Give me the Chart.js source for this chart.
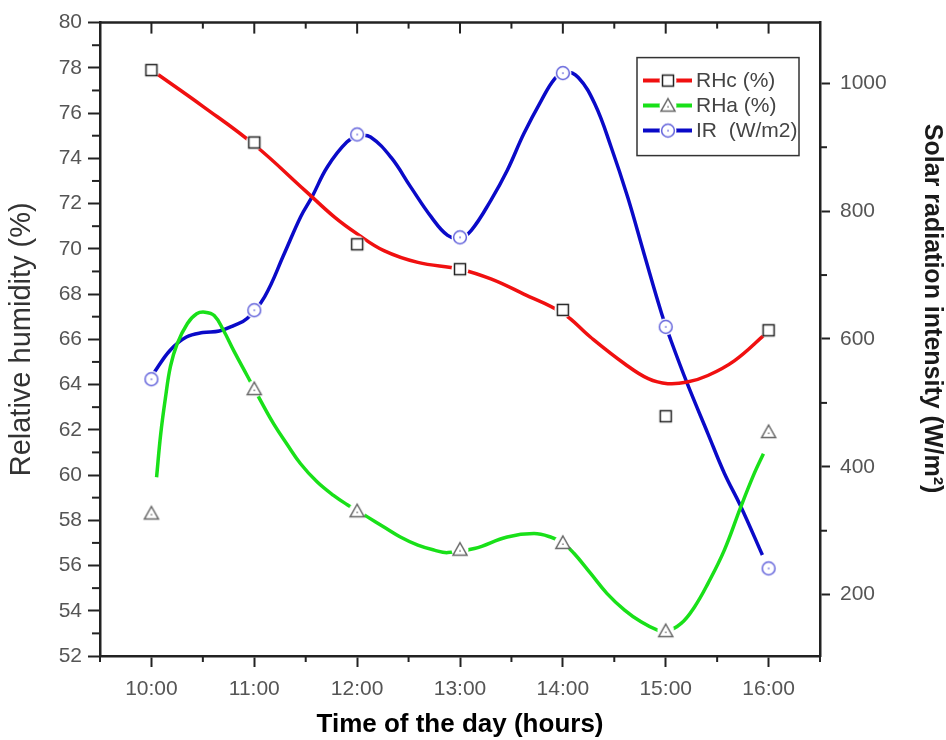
<!DOCTYPE html>
<html lang="en">
<head>
<meta charset="UTF-8">
<title>Relative humidity and solar radiation</title>
<script src="https://cdn.jsdelivr.net/npm/chart.js@4"></script>
<style>
  body { margin: 0; background: #fff; }
  #wrap { width: 946px; height: 740px; }
</style>
</head>
<body>
<div id="wrap"><canvas id="chart" width="946" height="740"></canvas></div>
<script>
// axis ticks
const hours = [10, 11, 12, 13, 14, 15, 16];
const hourLabels = ['10:00', '11:00', '12:00', '13:00', '14:00', '15:00', '16:00'];
const rhTicks = [52, 54, 56, 58, 60, 62, 64, 66, 68, 70, 72, 74, 76, 78, 80];
const irTicks = [200, 400, 600, 800, 1000];

// measured points (markers)
const seriesNames = ['RHc (%)', 'RHa (%)', 'IR  (W/m2)'];
const rhc = [77.9, 74.7, 70.2, 69.1, 67.3, 62.6, 66.4];
const rha = [58.3, 63.8, 58.4, 56.7, 57.0, 53.1, 61.9];
const ir = [537, 645, 920, 759, 1016, 619, 241];

// fitted curves (hour, value)
const rhcFitT = [10.05, 10.5, 11.0, 11.5, 11.78, 12.0, 12.26, 12.59, 13.0, 13.3, 13.62, 14.0, 14.27, 14.6, 14.83, 15.02, 15.21, 15.41, 15.67, 15.97];
const rhcFit  = [77.75, 76.3, 74.6, 72.55, 71.4, 70.66, 69.92, 69.4, 69.1, 68.67, 68.0, 67.15, 66.09, 64.92, 64.26, 64.04, 64.11, 64.4, 65.06, 66.24];

const rhaFitT = [10.05, 10.09, 10.136, 10.185, 10.25, 10.35, 10.44, 10.52, 10.61, 10.70, 10.80, 10.93, 11.06, 11.19, 11.32, 11.45, 11.61, 11.77, 11.9, 12.1, 12.26, 12.42, 12.59, 12.75, 12.88, 13.14, 13.46, 13.72, 13.88, 14.0, 14.11, 14.27, 14.43, 14.6, 14.76, 14.92, 15.0, 15.15, 15.28, 15.41, 15.57, 15.73, 15.86, 15.95];
const rhaFit  = [59.9, 61.8, 63.4, 64.8, 65.8, 66.7, 67.13, 67.2, 67.05, 66.4, 65.5, 64.4, 63.3, 62.25, 61.35, 60.5, 59.7, 59.1, 58.7, 58.15, 57.7, 57.26, 56.9, 56.68, 56.57, 56.75, 57.26, 57.41, 57.26, 57.0, 56.53, 55.65, 54.76, 54.03, 53.51, 53.14, 53.07, 53.44, 54.17, 55.2, 56.68, 58.59, 60.06, 60.94];

const irFitT = [10.02, 10.18, 10.34, 10.5, 10.66, 10.8, 10.93, 11.1, 11.29, 11.45, 11.56, 11.71, 11.9, 12.02, 12.13, 12.33, 12.52, 12.72, 12.88, 13.0, 13.11, 13.3, 13.46, 13.62, 13.79, 13.92, 14.02, 14.15, 14.31, 14.47, 14.63, 14.79, 14.96, 15.05, 15.21, 15.41, 15.57, 15.73, 15.94];
const irFit  = [546, 582, 603, 610, 612.5, 621, 632, 666, 733, 791, 822, 869, 908, 918, 916, 884, 838, 791, 762, 758, 770, 817, 864, 921, 973, 1007, 1018, 1009, 968, 900, 822, 733, 640, 598, 530, 452, 390, 338, 262];

const RED = '#f01010', GREEN = '#19e019', BLUE = '#0a0ac8';
const FONT = "'Liberation Sans', Arial, sans-serif";

function pts(t, v) {
    return t.map((x, i) => ({ x: x, y: v[i] }));
}

// marker images with a white halo so the curve breaks around the symbol
function makeMarker(kind) {
    const c = document.createElement('canvas');
    c.width = 20; c.height = 20;
    const g = c.getContext('2d');
    g.fillStyle = '#fff';
    g.beginPath(); g.arc(10, 10, 8.5, 0, Math.PI * 2); g.fill();
    g.lineWidth = 1.5;
    if (kind === 'square') {
        g.strokeStyle = '#222';
        g.strokeRect(4.5, 4.5, 11, 11);
    } else if (kind === 'triangle') {
        g.strokeStyle = '#666';
        g.beginPath(); g.moveTo(10, 3); g.lineTo(17, 15.5); g.lineTo(3, 15.5); g.closePath(); g.stroke();
        g.fillStyle = '#777'; g.fillRect(9.3, 10.5, 1.5, 1.5);
    } else {
        g.strokeStyle = '#6464dc';
        g.beginPath(); g.arc(10, 10, 6.4, 0, Math.PI * 2); g.stroke();
        g.fillStyle = '#6464dc'; g.fillRect(9.3, 9.3, 1.5, 1.5);
    }
    return c;
}
const markers = [makeMarker('square'), makeMarker('triangle'), makeMarker('circle')];
const colors = [RED, GREEN, BLUE];

function minorValues(major, min, max) {
    let out = [];
    const step = major[1] - major[0];
    const first = major[0] - step / 2;
    for (let v = first; v <= max + 1e-9; v += step) {
        if (v >= min - 1e-9) out.push(v);
    }
    return out;
}

// top frame line, inward top ticks, minor ticks on every axis
const frame = {
    id: 'frame',
    afterDraw(chart) {
        const { ctx, chartArea: a, scales } = chart;
        const line = (x1, y1, x2, y2) => { ctx.beginPath(); ctx.moveTo(x1, y1); ctx.lineTo(x2, y2); ctx.stroke(); };
        ctx.save();
        ctx.strokeStyle = '#222';
        ctx.lineWidth = 2.5;
        line(a.left - 1, a.top, a.right + 1, a.top);
        ctx.lineWidth = 2;
        const xs = scales.x, ys = scales.y, rs = scales.y1;
        hours.forEach(h => { const px = xs.getPixelForValue(h); line(px, a.top, px, a.top + 11); });
        minorValues(hours, xs.min, xs.max).forEach(h => {
            const px = xs.getPixelForValue(h);
            line(px, a.top, px, a.top + 6);
            line(px, a.bottom, px, a.bottom + 6);
        });
        minorValues(rhTicks, ys.min, ys.max).forEach(v => {
            const py = ys.getPixelForValue(v);
            line(a.left - 8, py, a.left, py);
        });
        minorValues(irTicks, rs.min, rs.max).forEach(v => {
            const py = rs.getPixelForValue(v);
            line(a.right, py, a.right + 7, py);
        });
        // right axis title, sits a little above the middle in the original
        ctx.fillStyle = '#1a1a1a';
        ctx.font = 'bold 25px ' + FONT;
        ctx.textAlign = 'center';
        ctx.textBaseline = 'middle';
        ctx.translate(a.right + 112, a.top + 286);
        ctx.rotate(Math.PI / 2);
        ctx.fillText('Solar radiation intensity (W/m\u00B2)', 0, 0);
        ctx.restore();
    }
};

const legendBox = {
    id: 'legendBox',
    afterDatasetsDraw(chart) {
        const { ctx, chartArea: a } = chart;
        const x0 = a.right - 183, y0 = a.top + 35, w = 162, h = 98;
        ctx.save();
        ctx.fillStyle = '#fff';
        ctx.fillRect(x0, y0, w, h);
        ctx.strokeStyle = '#333';
        ctx.lineWidth = 1.5;
        ctx.strokeRect(x0, y0, w, h);
        ctx.font = '21px ' + FONT;
        ctx.textBaseline = 'middle';
        seriesNames.forEach((name, i) => {
            const y = y0 + 23 + 25 * i;
            ctx.strokeStyle = colors[i];
            ctx.lineWidth = 4;
            ctx.beginPath(); ctx.moveTo(x0 + 6, y); ctx.lineTo(x0 + 55, y); ctx.stroke();
            const m = markers[i];
            ctx.drawImage(m, x0 + 31 - m.width / 2, y - m.height / 2);
            ctx.fillStyle = '#444';
            ctx.fillText(name, x0 + 59, y + 1);
        });
        ctx.restore();
    }
};

const markerSet = (i, data, axis) => ({
    label: seriesNames[i], data: data, yAxisID: axis, showLine: false,
    pointStyle: markers[i], pointRadius: 7, order: 0
});
const curveSet = (i, data, axis) => ({
    label: seriesNames[i] + ' fit', data: data, yAxisID: axis, showLine: true,
    borderColor: colors[i], borderWidth: 3.5, pointRadius: 0,
    tension: 0.4, order: 1
});

const tickFont = { family: FONT, size: 21 };

new Chart(document.getElementById('chart'), {
    type: 'scatter',
    data: {
        datasets: [
            markerSet(0, pts(hours, rhc), 'y'),
            markerSet(1, pts(hours, rha), 'y'),
            markerSet(2, pts(hours, ir), 'y1'),
            curveSet(0, pts(rhcFitT, rhcFit), 'y'),
            curveSet(1, pts(rhaFitT, rhaFit), 'y'),
            curveSet(2, pts(irFitT, irFit), 'y1')
        ]
    },
    options: {
        responsive: false,
        animation: false,
        events: [],
        layout: { padding: { top: 22, left: 0, right: 0, bottom: 0 } },
        plugins: { legend: { display: false }, tooltip: { enabled: false } },
        scales: {
            x: {
                type: 'linear', min: 9.5, max: 16.5,
                afterBuildTicks: s => { s.ticks = hours.map(v => ({ value: v })); },
                afterFit: s => { s.height = 84; },
                ticks: { callback: (v, i) => hourLabels[i], font: tickFont, color: '#555', padding: 10, autoSkip: false, maxRotation: 0 },
                grid: { drawOnChartArea: false, tickLength: 11, tickWidth: 2, tickColor: '#222' },
                border: { color: '#222', width: 2.5 },
                title: { display: true, text: 'Time of the day (hours)', color: '#000',
                    font: { family: FONT, size: 26, weight: 'bold', lineHeight: 1 },
                    padding: { top: 0, bottom: 2 } }
            },
            y: {
                position: 'left', min: 52, max: 80,
                afterBuildTicks: s => { s.ticks = rhTicks.map(v => ({ value: v })); },
                afterFit: s => { s.width = 100; },
                ticks: { font: tickFont, color: '#555', padding: 6 },
                grid: { drawOnChartArea: false, tickLength: 12, tickWidth: 2, tickColor: '#222' },
                border: { color: '#222', width: 2.5 },
                title: { display: true, text: 'Relative humidity (%)', color: '#333',
                    font: { family: FONT, size: 29, lineHeight: 1.2 }, padding: { top: 5, bottom: 0 } }
            },
            y1: {
                position: 'right', min: 104, max: 1095,
                afterBuildTicks: s => { s.ticks = irTicks.map(v => ({ value: v })); },
                afterFit: s => { s.width = 126; },
                ticks: { callback: v => String(v), font: tickFont, color: '#555', padding: 10 },
                grid: { drawOnChartArea: false, tickLength: 10, tickWidth: 2, tickColor: '#222' },
                border: { color: '#222', width: 2.5 }
            }
        }
    },
    plugins: [frame, legendBox]
});
</script>
</body>
</html>
